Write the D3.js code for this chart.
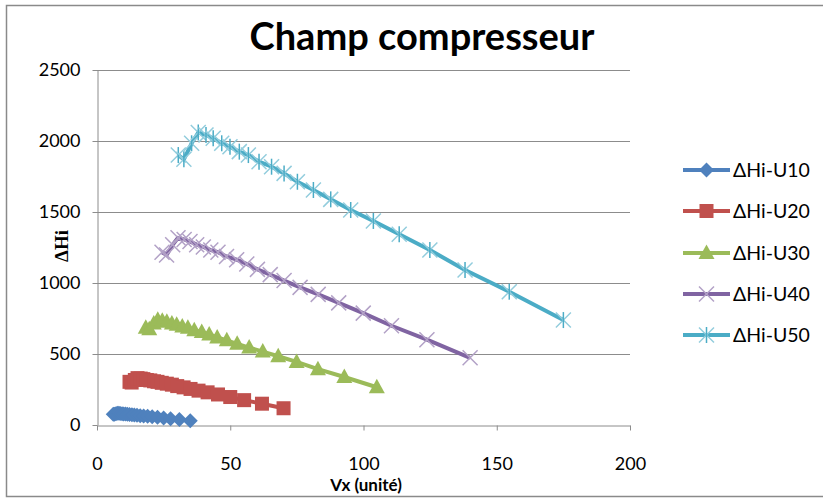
<!DOCTYPE html>
<html><head><meta charset="utf-8">
<script src="https://cdn.jsdelivr.net/npm/d3@7"></script>
<style>body{margin:0;background:#fff;} svg{display:block;}</style>
</head><body>
<script>
// ---- data ----
const seriesNames = ["ΔHi-U10","ΔHi-U20","ΔHi-U30","ΔHi-U40","ΔHi-U50"];
const xU10 = [6.1,6.5,7.1,7.6,8.2,8.7,9.4,10.0,10.7,11.4,12.2,13.1,14.0,15.0,16.2,17.5,19.0,20.7,22.7,25.0,27.6,30.9,35.0];
const yU10 = [76,75,79,82,82,81,79,78,77,76,74,73,71,69,66,64,61,58,54,49,44,38,30];
const xU20 = [12.2,13.0,14.2,15.2,16.4,17.4,18.7,20.0,21.4,22.7,24.3,26.2,28.1,30.1,32.5,35.1,38.1,41.5,45.4,50.0,55.2,61.9,70.0];
const yU20 = [304,299,317,330,327,323,317,314,308,304,297,291,284,274,265,254,242,230,215,197,175,150,118];
const xU30 = [18.3,19.6,21.3,22.8,24.5,26.2,28.1,29.9,32.0,34.1,36.5,39.3,42.1,45.1,48.7,52.6,57.1,62.2,68.0,74.9,82.9,92.8,105.0];
const yU30 = [684,674,714,742,735,727,714,706,693,684,667,655,638,617,596,572,545,517,484,444,393,338,266];
const xU40 = [24.4,26.1,28.4,30.4,32.7,34.9,37.4,39.9,42.7,45.4,48.6,52.4,56.2,60.2,65.0,70.2,76.2,83.0,90.7,99.9,110.5,123.8,140.0];
const yU40 = [1217,1197,1270,1318,1307,1292,1270,1254,1232,1217,1187,1164,1134,1096,1059,1017,969,920,860,788,699,601,473];
const xU50 = [30.5,32.6,35.5,38.0,40.9,43.6,46.8,49.9,53.4,56.8,60.8,65.5,70.2,75.2,81.2,87.7,95.2,103.7,113.4,124.9,138.1,154.7,175.0];
const yU50 = [1901,1871,1984,2060,2042,2019,1984,1960,1925,1901,1854,1819,1772,1713,1655,1589,1514,1437,1343,1232,1092,939,739];
const xTicks = [0,50,100,150,200];
const yTicks = [0,500,1000,1500,2000,2500];
const titleText = "Champ compresseur";
const xLabel = "Vx (unité)";
const yLabel = "ΔHi";

// ---- styles ----
const colors = ["#4F81BD","#C0504D","#9BBB59","#8064A2","#4BACC6"];
const lightColors = ["#4F81BD","#C0504D","#9BBB59","#B3A2C7","#93CDDD"];
const markers = ["diamond","square","triangle","x","star"];
const W = 823, H = 500;
const F = "Lato, 'Open Sans', sans-serif";

const svg = d3.select("body").append("svg").attr("width", W).attr("height", H);
svg.append("rect").attr("x",6.5).attr("y",5.5).attr("width",830).attr("height",491)
  .attr("fill","#fff").attr("stroke","#8a8a8a").attr("stroke-width",1.5);

const x = d3.scaleLinear().domain([0,200]).range([97,630]);
const y = d3.scaleLinear().domain([0,2500]).range([425,70]);

// gridlines
svg.append("g").selectAll("line").data(yTicks.filter(v=>v>0)).join("line")
  .attr("x1",x(0)).attr("x2",x(200)).attr("y1",d=>Math.round(y(d))+0.5).attr("y2",d=>Math.round(y(d))+0.5)
  .attr("stroke","#8c8c8c").attr("stroke-width",1);

// axes
const gx = svg.append("g").attr("transform",`translate(0,${y(0)+0.5})`)
  .call(d3.axisBottom(x).tickValues(xTicks).tickFormat(d3.format("d")).tickSize(5).tickSizeOuter(0).tickPadding(27));
const gy = svg.append("g").attr("transform",`translate(${x(0)+0.5},0)`)
  .call(d3.axisLeft(y).tickValues(yTicks).tickFormat(d3.format("d")).tickSize(5).tickSizeOuter(0).tickPadding(12));
[gx,gy].forEach(g=>{
  g.select(".domain").attr("stroke","#8c8c8c");
  g.selectAll(".tick line").attr("stroke","#8c8c8c");
  g.selectAll("text").attr("font-family",F).attr("font-size",18).attr("fill","#000");
});

// marker drawing
function drawMarker(g, type, cx, cy, i){
  const c = colors[i], lc = lightColors[i];
  if(type==="diamond"){
    g.append("path").attr("d",`M${cx},${cy-7.5}L${cx+7.5},${cy}L${cx},${cy+7.5}L${cx-7.5},${cy}Z`).attr("fill",c);
  } else if(type==="square"){
    g.append("rect").attr("x",cx-7).attr("y",cy-7).attr("width",14).attr("height",14).attr("fill",c);
  } else if(type==="triangle"){
    g.append("path").attr("d",`M${cx},${cy-8.5}L${cx+8},${cy+6}L${cx-8},${cy+6}Z`).attr("fill",c);
  } else if(type==="x"){
    g.append("path").attr("d",`M${cx-7.5},${cy-7.5}L${cx+7.5},${cy+7.5}M${cx-7.5},${cy+7.5}L${cx+7.5},${cy-7.5}`)
      .attr("stroke",lc).attr("stroke-width",1.5).attr("fill","none");
  } else if(type==="star"){
    g.append("path").attr("d",`M${cx-7.5},${cy-7.5}L${cx+7.5},${cy+7.5}M${cx-7.5},${cy+7.5}L${cx+7.5},${cy-7.5}`)
      .attr("stroke",lc).attr("stroke-width",1.5).attr("fill","none");
    g.append("path").attr("d",`M${cx},${cy-8}L${cx},${cy+8}`)
      .attr("stroke",c).attr("stroke-width",1.5).attr("fill","none");
  }
}

const allX = [xU10,xU20,xU30,xU40,xU50];
const allY = [yU10,yU20,yU30,yU40,yU50];
const line = d3.line().x(d=>x(d[0])).y(d=>y(d[1]));
allX.forEach((xs,i)=>{
  const pts = xs.map((v,k)=>[v, allY[i][k]]);
  const g = svg.append("g");
  g.append("path").datum(pts).attr("d",line).attr("fill","none")
    .attr("stroke",colors[i]).attr("stroke-width",4).attr("stroke-linejoin","round");
  pts.forEach(p=>drawMarker(g, markers[i], x(p[0]), y(p[1]), i));
});

// legend
const legY = [170,211,253,294,335];
seriesNames.forEach((n,i)=>{
  const g = svg.append("g");
  g.append("line").attr("x1",683).attr("x2",730).attr("y1",legY[i]).attr("y2",legY[i])
    .attr("stroke",colors[i]).attr("stroke-width",4);
  drawMarker(g, markers[i], 706.5, legY[i], i);
  g.append("text").attr("x",733).attr("y",legY[i]).attr("dy","0.36em")
    .attr("font-family",F).attr("font-size",19.5).attr("fill","#000").text(n);
});

// title & labels
svg.append("text").attr("x",422).attr("y",50).attr("text-anchor","middle")
  .attr("font-family",F).attr("font-weight","bold").attr("font-size",38).attr("fill","#000").text(titleText);
svg.append("text").attr("x",366).attr("y",491).attr("text-anchor","middle")
  .attr("font-family",F).attr("font-weight","bold").attr("font-size",17).attr("fill","#000").text(xLabel);
svg.append("text").attr("transform","translate(68,246) rotate(-90)").attr("text-anchor","middle")
  .attr("font-family","'Liberation Serif', 'DejaVu Serif', serif").attr("font-weight","bold").attr("font-size",19)
  .attr("fill","#000").text(yLabel);
</script>
</body></html>
